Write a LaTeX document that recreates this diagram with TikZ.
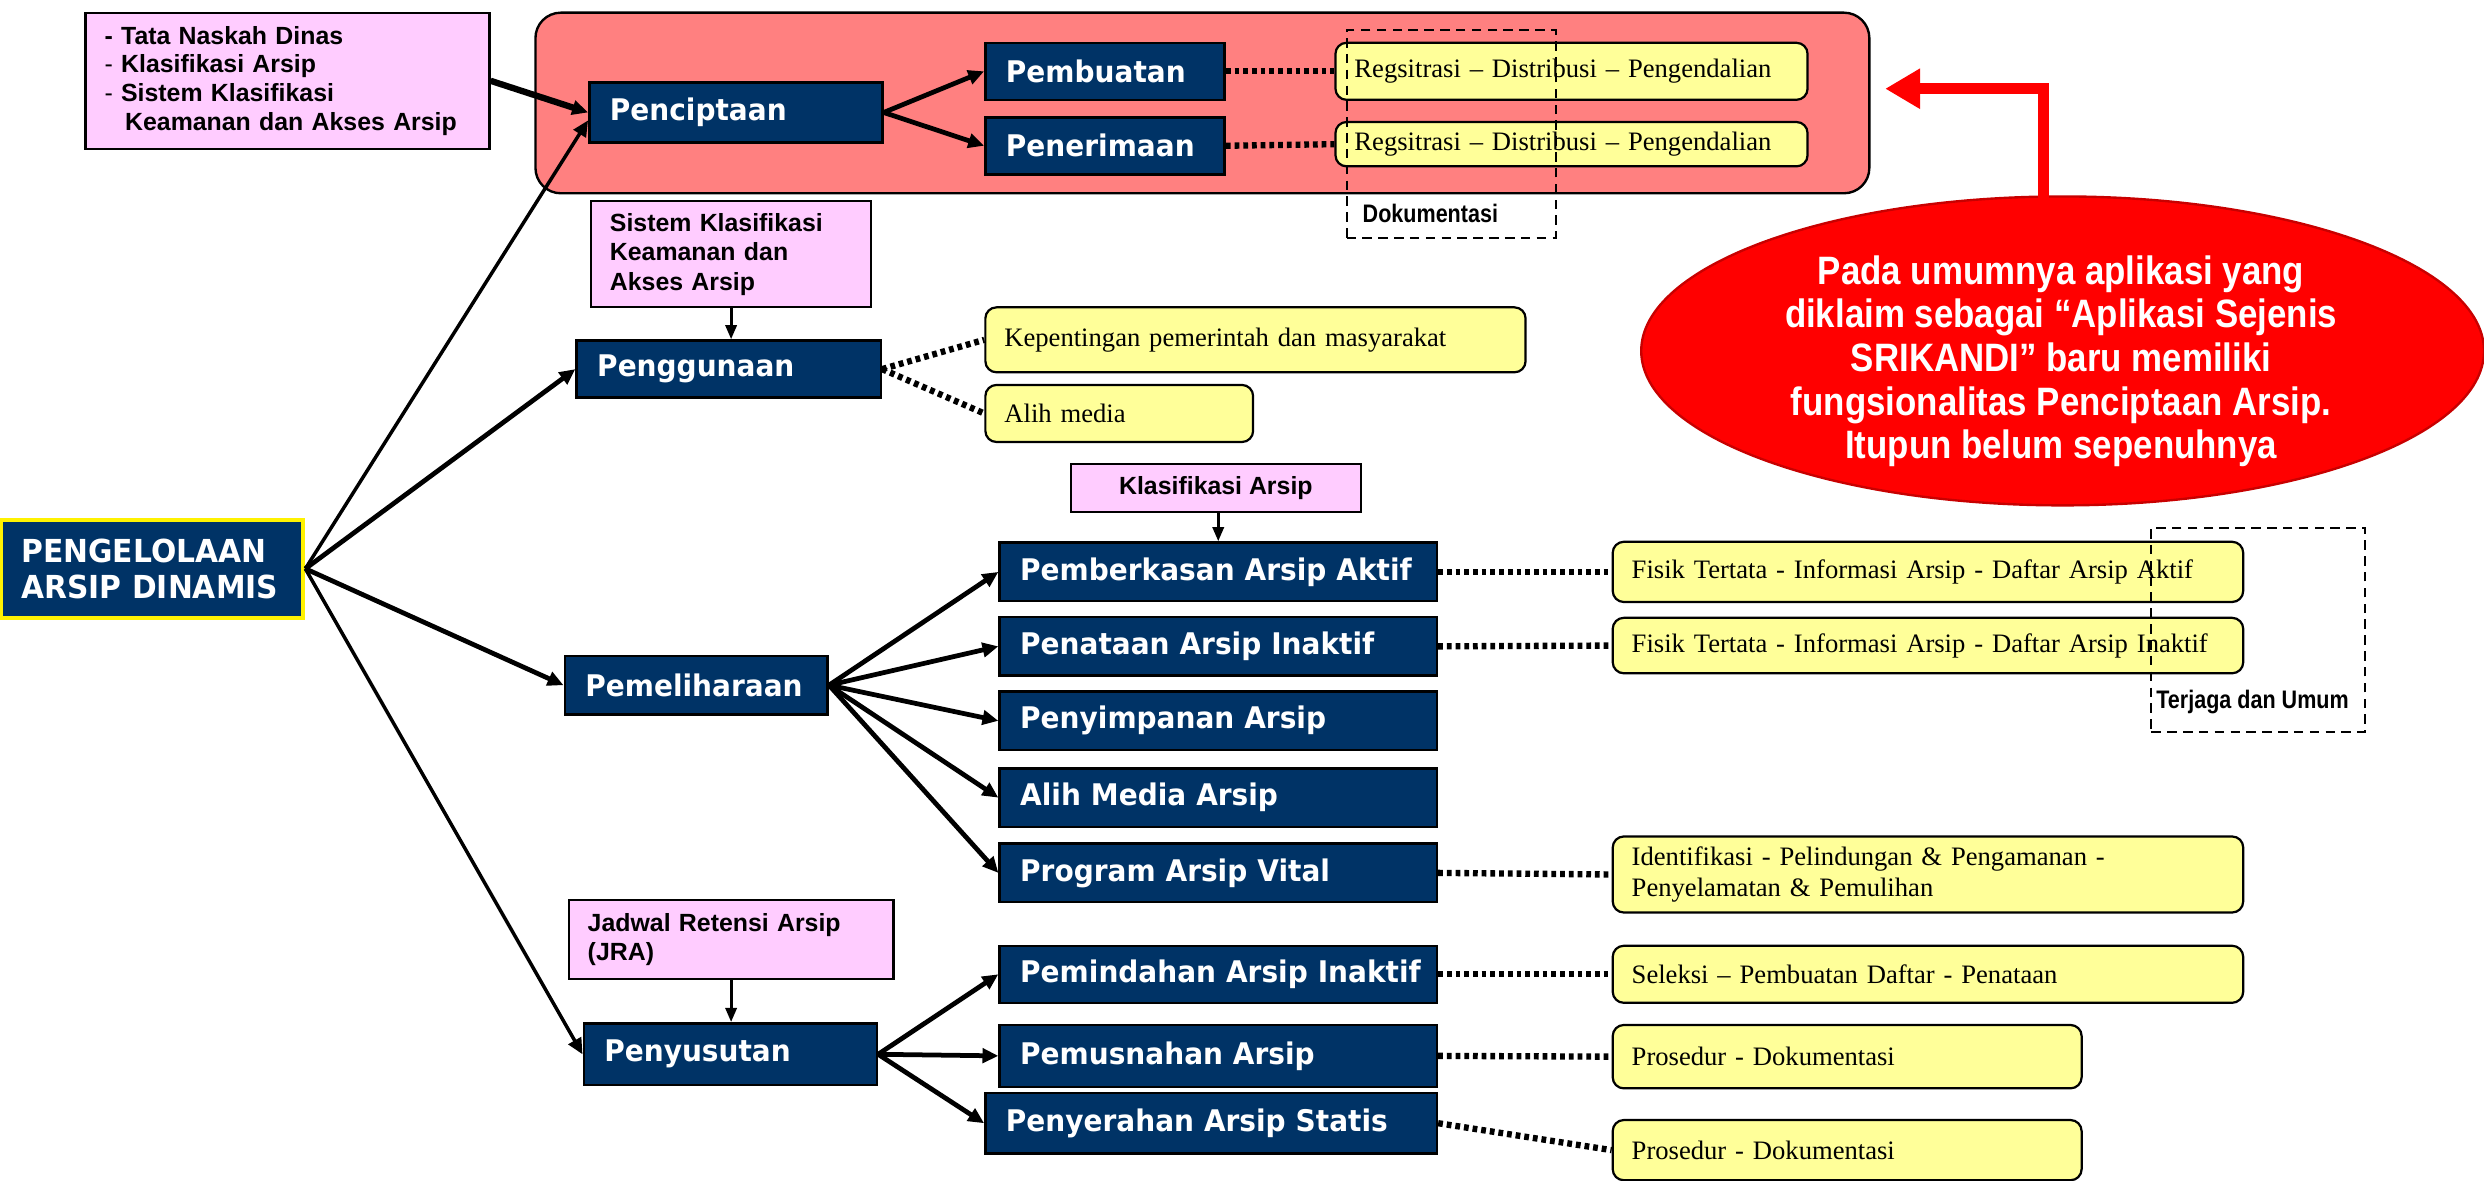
\documentclass[tikz,border=0pt]{standalone}
\usepackage{fontspec}
\setmainfont{Liberation Serif}
\newfontfamily\dvs[FakeStretch=0.94]{DejaVu Sans}
\newfontfamily\lss{Liberation Sans}
\newfontfamily\nar[FakeStretch=0.85]{Liberation Sans}
\newfontfamily\ellf[FakeStretch=0.88]{Liberation Sans}
\usetikzlibrary{arrows.meta,shapes.geometric,calc}
\definecolor{navy}{RGB}{0,51,102}
\definecolor{salmon}{RGB}{255,128,128}
\definecolor{lyellow}{RGB}{255,255,153}
\definecolor{lpink}{RGB}{255,204,255}
\definecolor{dred}{RGB}{200,0,0}
\begin{document}
\begin{tikzpicture}[x=1pt,y=-1pt,
 bluebox/.style={draw=black, fill=navy, line width=1.6pt, text=white, font=\dvs\bfseries\fontsize{18.8}{22}\selectfont, align=left, inner xsep=13pt, inner ysep=0pt},
 ybox/.style={draw=black, fill=lyellow, line width=1.4pt, rounded corners=7pt, font=\rmfamily\fontsize{16.8}{20}\selectfont, align=left, inner xsep=12pt, inner ysep=0pt},
 pbox/.style={draw=black, fill=lpink, line width=1.4pt, font=\lss\bfseries\fontsize{15.7}{18.5}\selectfont, align=left, inner xsep=12pt, inner ysep=0pt},
 arr/.style={line width=3pt, -{Triangle[length=10pt,width=9pt]}},
 thinarr/.style={line width=2.2pt, -{Triangle[length=10pt,width=9pt]}},
 downarr/.style={line width=2pt, -{Triangle[length=9pt,width=7pt]}},
 dots/.style={line width=4pt, dash pattern=on 3pt off 2.5pt},
 frame/.style={draw=black, line width=1.3pt, dash pattern=on 6pt off 4pt, inner sep=0pt},
 lab/.style={font=\nar\bfseries\fontsize{16}{18}\selectfont, anchor=west, inner sep=0pt}
]
\useasboundingbox (0,0) rectangle (1568,745);

% creation zone
\node[draw=black, fill=salmon, line width=1.5pt, rounded corners=16pt, minimum width=842pt, minimum height=114pt] (zone) at (759,65) {};

% main node
\node[bluebox, draw=yellow, line width=2.5pt, minimum width=191pt, minimum height=62pt, text width=165pt, font=\dvs\bfseries\fontsize{20}{23}\selectfont] (main) at (96,359) {PENGELOLAAN\\ARSIP DINAMIS};

% level 1
\node[bluebox, minimum width=185pt, minimum height=38pt, text width=159pt] (pen) at (464.5,71) {Penciptaan};
\node[bluebox, minimum width=192pt, minimum height=36pt, text width=166pt] (gun) at (460,233) {Penggunaan};
\node[bluebox, minimum width=166pt, minimum height=37pt, text width=140pt] (pel) at (439.5,432.5) {Pemeliharaan};
\node[bluebox, minimum width=185pt, minimum height=39pt, text width=159pt] (sus) at (461,665.5) {Penyusutan};

% level 2
\node[bluebox, minimum width=151pt, minimum height=36pt, text width=125pt] (pemb) at (697.5,45) {Pembuatan};
\node[bluebox, minimum width=151pt, minimum height=36pt, text width=125pt] (pener) at (697.5,92) {Penerimaan};
\node[bluebox, minimum width=276pt, minimum height=37pt, text width=250pt] (m1) at (769,361) {Pemberkasan Arsip Aktif};
\node[bluebox, minimum width=276pt, minimum height=37pt, text width=250pt] (m2) at (769,408) {Penataan Arsip Inaktif};
\node[bluebox, minimum width=276pt, minimum height=37pt, text width=250pt] (m3) at (769,455) {Penyimpanan Arsip};
\node[bluebox, minimum width=276pt, minimum height=37pt, text width=250pt] (m4) at (769,503.5) {Alih Media Arsip};
\node[bluebox, minimum width=276pt, minimum height=37pt, text width=250pt] (m5) at (769,551) {Program Arsip Vital};
\node[bluebox, minimum width=276pt, minimum height=36pt, text width=256pt, inner xsep=10pt] (s1) at (769,615) {\hspace*{3pt}\mbox{Pemindahan Arsip Inaktif}};
\node[bluebox, minimum width=276pt, minimum height=39pt, text width=250pt] (s2) at (769,666.5) {Pemusnahan Arsip};
\node[bluebox, minimum width=285pt, minimum height=38pt, text width=259pt] (s3) at (764.5,709) {Penyerahan Arsip Statis};

% yellow result boxes
\node[ybox, minimum width=298pt, minimum height=36pt, text width=274pt] (y1) at (992,45) {Regsitrasi – Distribusi – Pengendalian};
\node[ybox, minimum width=298pt, minimum height=28pt, text width=274pt] (y2) at (992,91) {Regsitrasi – Distribusi – Pengendalian};
\node[ybox, minimum width=341pt, minimum height=41pt, text width=317pt] (k1) at (792.5,214.5) {Kepentingan pemerintah dan masyarakat};
\node[ybox, minimum width=169pt, minimum height=36pt, text width=145pt] (k2) at (706.5,261) {Alih media};
\node[ybox, minimum width=398pt, minimum height=38pt, text width=374pt] (f1) at (1217,361) {Fisik Tertata - Informasi Arsip - Daftar Arsip Aktif};
\node[ybox, minimum width=398pt, minimum height=35pt, text width=374pt] (f2) at (1217,407.5) {Fisik Tertata - Informasi Arsip - Daftar Arsip Inaktif};
\node[ybox, minimum width=398pt, minimum height=48pt, text width=374pt] (f3) at (1217,552) {Identifikasi - Pelindungan \& Pengamanan -\\Penyelamatan \& Pemulihan};
\node[ybox, minimum width=398pt, minimum height=36pt, text width=374pt] (f4) at (1217,615) {Seleksi – Pembuatan Daftar - Penataan};
\node[ybox, minimum width=296pt, minimum height=40pt, text width=272pt] (f5) at (1166,667) {Prosedur - Dokumentasi};
\node[ybox, minimum width=296pt, minimum height=38pt, text width=272pt] (f6) at (1166,726) {Prosedur - Dokumentasi};

% pink reference boxes
\node[pbox, minimum width=255pt, minimum height=86pt, text width=231pt, font=\lss\bfseries\fontsize{15.7}{18}\selectfont] (p1) at (181.5,51) {- Tata Naskah Dinas\\{\mdseries -} Klasifikasi Arsip\\{\mdseries -} Sistem Klasifikasi\\\hspace*{13pt}Keamanan dan Akses Arsip};
\node[pbox, minimum width=177pt, minimum height=67pt, text width=153pt] (p2) at (461.5,160.5) {Sistem Klasifikasi\\Keamanan dan\\Akses Arsip};
\node[pbox, minimum width=183pt, minimum height=30pt, align=center] (p3) at (767.5,308) {Klasifikasi Arsip};
\node[pbox, minimum width=205pt, minimum height=50pt, text width=181pt] (p4) at (461.5,593) {Jadwal Retensi Arsip\\(JRA)};

% connectors from main
\draw[thinarr] (main.east) -- ([yshift=-5pt]pen.west);
\draw[arr] (main.east) -- (gun.west);
\draw[arr] (main.east) -- (pel.west);
\draw[thinarr] (main.east) -- (sus.west);
\draw[arr, line width=4pt] (p1.east) -- (pen.west);

\draw[arr] (pen.east) -- (pemb.west);
\draw[arr] (pen.east) -- (pener.west);
\foreach \t in {m1,m2,m3,m4,m5} \draw[arr] (pel.east) -- (\t.west);
\foreach \t in {s1,s2,s3} \draw[arr] (sus.east) -- (\t.west);

\draw[downarr] (p2.south) -- (p2.south |- gun.north);
\draw[downarr] ([xshift=1.5pt]p3.south) -- ([xshift=1.5pt]p3.south |- m1.north);
\draw[downarr] (p4.south) -- (p4.south |- sus.north);

% dotted links
\draw[dots] (pemb.east) -- (y1.west);
\draw[dots] (pener.east) -- (y2.west);
\draw[dots] (gun.east) -- (k1.west);
\draw[dots] (gun.east) -- (k2.west);
\draw[dots] (m1.east) -- (f1.west);
\draw[dots] (m2.east) -- (f2.west);
\draw[dots] (m5.east) -- (f3.west);
\draw[dots] (s1.east) -- (f4.west);
\draw[dots] (s2.east) -- (f5.west);
\draw[dots] (s3.east) -- (f6.west);

% dashed frames
\node[frame, minimum width=132pt, minimum height=131pt] (dokf) at (916,84.5) {};
\node[lab] (dok) at (860,135) {Dokumentasi};
\node[frame, minimum width=135pt, minimum height=129pt] (terf) at (1425.5,397.5) {};
\node[lab] (ter) at (1361,443) {Terjaga dan Umum};

% callout
\node[ellipse, fill=red, draw=dred, line width=1.5pt, minimum width=532pt, minimum height=195pt, inner sep=0pt] (ell) at (1302,221.5) {};
\node[font=\ellf\bfseries\fontsize{25}{27.5}\selectfont, text=white, align=center, inner sep=0pt] (elltext) at (1301,228) {Pada umumnya aplikasi yang\\diklaim sebagai “Aplikasi Sejenis\\SRIKANDI” baru memiliki\\fungsionalitas Penciptaan Arsip.\\Itupun belum sepenuhnya};
\coordinate (rtip) at (1190,56);
\draw[red, line width=7pt, -{Triangle[length=22pt,width=24pt]}] ([xshift=-12pt,yshift=-6pt]ell.north) |- (rtip);
\end{tikzpicture}
\end{document}
